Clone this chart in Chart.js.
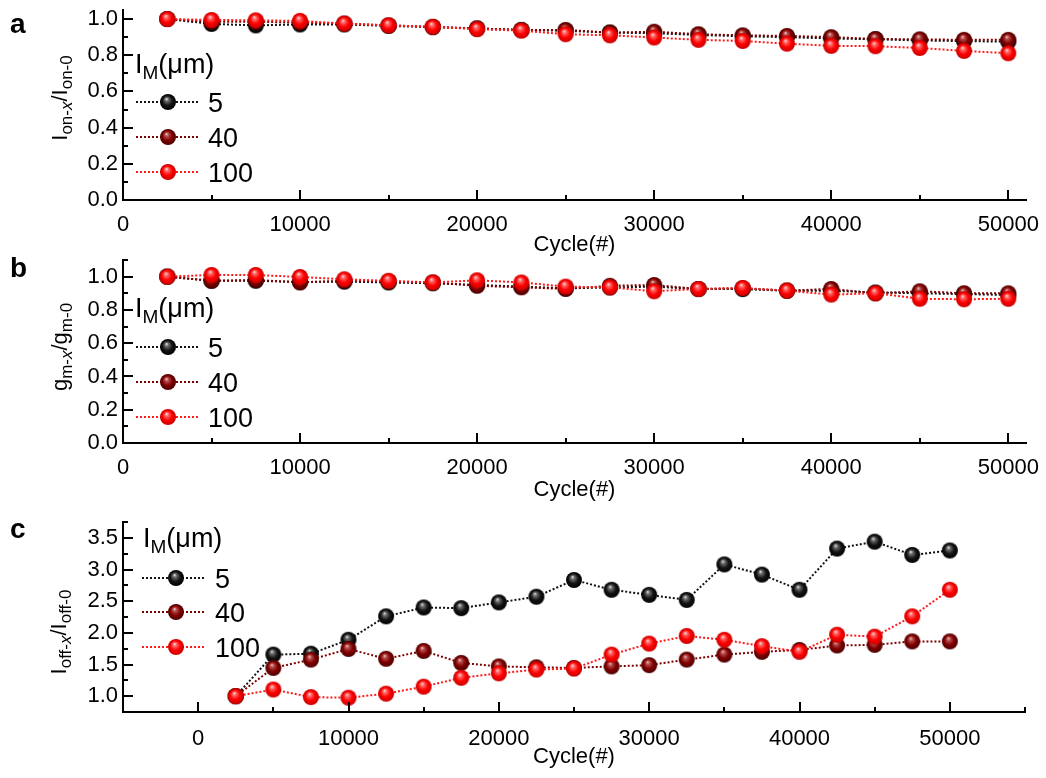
<!DOCTYPE html>
<html><head><meta charset="utf-8">
<script src="https://cdn.jsdelivr.net/npm/chart.js@4.4.0/dist/chart.umd.min.js"></script>
<style>
body{margin:0;background:#fff;width:1046px;height:778px;position:relative;overflow:hidden}
canvas{position:absolute;left:0}
</style></head><body>
<canvas id="ca" width="1046" height="258" style="top:0px"></canvas>
<canvas id="cb" width="1046" height="253" style="top:250px"></canvas>
<canvas id="cc" width="1046" height="270" style="top:500px"></canvas>
<script>
// ---------------- data ----------------
const cycles = [2500, 5000, 7500, 10000, 12500, 15000, 17500, 20000, 22500, 25000,
                27500, 30000, 32500, 35000, 37500, 40000, 42500, 45000, 47500, 50000];
const seriesLabels = ['5', '40', '100'];

// (a) Ion-x / Ion-0
const onRatio5   = [1.000, 0.973, 0.965, 0.970, 0.970, 0.962, 0.955, 0.948, 0.940, 0.935,
                    0.925, 0.922, 0.912, 0.905, 0.900, 0.893, 0.888, 0.882, 0.878, 0.875];
const onRatio40  = [1.000, 0.985, 0.985, 0.980, 0.975, 0.965, 0.957, 0.948, 0.940, 0.940,
                    0.925, 0.930, 0.916, 0.910, 0.907, 0.900, 0.890, 0.888, 0.885, 0.885];
const onRatio100 = [1.000, 0.995, 0.993, 0.990, 0.975, 0.965, 0.957, 0.944, 0.936, 0.916,
                    0.910, 0.898, 0.885, 0.879, 0.864, 0.852, 0.850, 0.840, 0.824, 0.811];

// (b) gm-x / gm-0
const gmRatio5   = [1.000, 0.975, 0.975, 0.968, 0.970, 0.965, 0.960, 0.950, 0.940, 0.930,
                    0.935, 0.940, 0.925, 0.925, 0.915, 0.915, 0.905, 0.900, 0.895, 0.890];
const gmRatio40  = [1.000, 0.975, 0.980, 0.965, 0.975, 0.970, 0.965, 0.945, 0.936, 0.926,
                    0.945, 0.950, 0.926, 0.930, 0.916, 0.926, 0.900, 0.912, 0.900, 0.900];
const gmRatio100 = [1.000, 1.010, 1.010, 0.998, 0.984, 0.975, 0.965, 0.978, 0.965, 0.940,
                    0.936, 0.912, 0.926, 0.932, 0.916, 0.892, 0.900, 0.867, 0.864, 0.867];

// (c) Ioff-x / Ioff-0
const offRatio5   = [1.00, 1.656, 1.67, 1.89, 2.26, 2.40, 2.39, 2.48, 2.57, 2.835,
                     2.68, 2.60, 2.52, 3.08, 2.92, 2.68, 3.33, 3.44, 3.23, 3.30];
const offRatio40  = [1.00, 1.446, 1.577, 1.745, 1.59, 1.715, 1.525, 1.47, 1.456, 1.446,
                     1.47, 1.49, 1.577, 1.656, 1.70, 1.73, 1.80, 1.81, 1.865, 1.865];
const offRatio100 = [1.00, 1.105, 0.985, 0.975, 1.04, 1.15, 1.29, 1.36, 1.42, 1.435,
                     1.656, 1.83, 1.95, 1.89, 1.79, 1.70, 1.97, 1.94, 2.26, 2.68];

// ticks
const xTicksAB  = [0, 10000, 20000, 30000, 40000, 50000];
const xLabelsAB = ['0', '10000', '20000', '30000', '40000', '50000'];
const xMinorAB  = [5000, 15000, 25000, 35000, 45000];
const yTicksAB  = [0, 0.2, 0.4, 0.6, 0.8, 1.0];
const yLabelsAB = ['0.0', '0.2', '0.4', '0.6', '0.8', '1.0'];
const yMinorA   = [0.1, 0.3, 0.5, 0.7, 0.9];
const yMinorB   = [0.1, 0.3, 0.5, 0.7, 0.9, 1.1];
const xTicksC   = [0, 10000, 20000, 30000, 40000, 50000];
const xLabelsC  = ['0', '10000', '20000', '30000', '40000', '50000'];
const xMinorC   = [5000, 15000, 25000, 35000, 45000, 55000];
const yTicksC   = [1.0, 1.5, 2.0, 2.5, 3.0, 3.5];
const yLabelsC  = ['1.0', '1.5', '2.0', '2.5', '3.0', '3.5'];
const yMinorC   = [1.25, 1.75, 2.25, 2.75, 3.25, 3.75];

// ---------------- styles ----------------
const FONT = '"Liberation Sans", Arial, sans-serif';
const lineColors = ['#111111', '#800000', '#ff1a1a'];
const sphereStops = [
  ['#f4f4f4', '#707070', '#151515', '#000000'],
  ['#f2d6d6', '#b85050', '#820000', '#4a0000'],
  ['#ffeaea', '#ff6a6a', '#ff0000', '#c80000']
];
function makeSphere(stops, r) {
  const c = document.createElement('canvas');
  const s = 2 * r + 2;
  c.width = s; c.height = s;
  const g = c.getContext('2d');
  const cx = s / 2, cy = s / 2;
  const grad = g.createRadialGradient(cx - r * 0.2, cy - r * 0.4, 0, cx, cy, r);
  grad.addColorStop(0, stops[0]);
  grad.addColorStop(0.22, stops[1]);
  grad.addColorStop(0.6, stops[2]);
  grad.addColorStop(1, stops[3]);
  g.fillStyle = grad;
  g.beginPath(); g.arc(cx, cy, r, 0, Math.PI * 2); g.fill();
  return c;
}
const sprites = sphereStops.map(s => makeSphere(s, 8));

// ---------------- decoration plugin ----------------
function richWidth(ctx, parts) {
  let w = 0;
  parts.forEach(p => { ctx.font = p.font; w += ctx.measureText(p.t).width; });
  return w;
}
function drawRich(ctx, parts, x, y) {
  parts.forEach(p => {
    ctx.font = p.font;
    ctx.fillText(p.t, x, y + (p.dy || 0));
    x += ctx.measureText(p.t).width;
  });
}
const deco = {
  id: 'deco',
  afterDraw(chart, args, o) {
    const {ctx, chartArea: ca, scales: {x, y}} = chart;
    ctx.save();
    ctx.strokeStyle = '#000'; ctx.lineWidth = 2; ctx.setLineDash([]);
    // inward ticks
    const xt = (vals, len) => vals.forEach(v => {
      const px = Math.round(x.getPixelForValue(v));
      ctx.beginPath(); ctx.moveTo(px, ca.bottom); ctx.lineTo(px, ca.bottom - len); ctx.stroke();
    });
    const yt = (vals, len) => vals.forEach(v => {
      const py = Math.round(y.getPixelForValue(v));
      ctx.beginPath(); ctx.moveTo(ca.left, py); ctx.lineTo(ca.left + len, py); ctx.stroke();
    });
    xt(o.xMajor, 10); xt(o.xMinor, 5); yt(o.yMajor, 10); yt(o.yMinor, 5);

    ctx.fillStyle = '#000';
    ctx.textBaseline = 'alphabetic'; ctx.textAlign = 'left';
    // y title (rotated, with subscripts)
    const M = `22px ${FONT}`, S = `17px ${FONT}`, SI = `italic 17px ${FONT}`;
    const parts = o.yTitle.map(p => ({t: p[0], font: p[1] === 'm' ? M : (p[1] === 'si' ? SI : S), dy: p[1] === 'm' ? 0 : 5}));
    ctx.save();
    ctx.translate(o.yTitleX, o.yTitleY);
    ctx.rotate(-Math.PI / 2);
    drawRich(ctx, parts, -richWidth(ctx, parts) / 2, 0);
    ctx.restore();

    // panel letter
    ctx.font = `bold 28px ${FONT}`;
    ctx.fillText(o.letter, 10, o.letterY);

    // legend
    const L = o.legend;
    drawRich(ctx, [{t: 'I', font: `27px ${FONT}`}, {t: 'M', font: `19px ${FONT}`, dy: 6}, {t: '(\u03bcm)', font: `27px ${FONT}`}], L.titleX, L.titleY);
    seriesLabels.forEach((lab, i) => {
      const yy = L.ys[i];
      ctx.save();
      ctx.strokeStyle = lineColors[i]; ctx.lineWidth = 2; ctx.setLineDash([2, 2]);
      ctx.beginPath(); ctx.moveTo(L.x1, yy); ctx.lineTo(L.x2, yy); ctx.stroke();
      ctx.restore();
      const sp = sprites[i];
      ctx.drawImage(sp, Math.round(L.mx - sp.width / 2), Math.round(yy - sp.height / 2));
      ctx.font = `27px ${FONT}`;
      ctx.fillText(lab, L.tx, yy + 9.5);
    });
    ctx.restore();
  }
};

// ---------------- chart factory ----------------
function makeChart(id, p) {
  const datasets = p.values.map((vals, i) => ({
    label: seriesLabels[i],
    data: cycles.map((c, j) => ({x: c, y: vals[j]})),
    borderColor: lineColors[i], borderWidth: 2, borderDash: [2, 2],
    pointStyle: sprites[i], pointRadius: 8, pointHoverRadius: 8,
    order: 3 - i, clip: false, tension: 0, fill: false
  }));
  const zeroPad = s => { s.paddingLeft = 0; s.paddingRight = 0; s.paddingTop = 0; s.paddingBottom = 0; };
  return new Chart(document.getElementById(id), {
    type: 'line',
    data: {datasets},
    options: {
      responsive: false, animation: false, devicePixelRatio: 1, events: [],
      layout: {padding: {top: p.top, right: p.right, left: 0, bottom: 0}},
      plugins: {legend: {display: false}, tooltip: {enabled: false}, deco: p.deco},
      scales: {
        x: {
          type: 'linear', min: p.xMin, max: p.xMax,
          afterBuildTicks: s => { s.ticks = p.xTicks.map(v => ({value: v})); },
          afterFit: s => { s.height = p.xH; zeroPad(s); },
          grid: {display: false, drawTicks: false},
          border: {display: true, color: '#000', width: 2},
          ticks: {color: '#000', font: {family: FONT, size: 22}, padding: p.xPad, maxRotation: 0, minRotation: 0,
                  autoSkip: false, callback: (v, i) => p.xLabels[i]},
          title: {display: true, text: 'Cycle(#)', color: '#000', font: {family: FONT, size: 22}, padding: 0}
        },
        y: {
          type: 'linear', min: p.yMin, max: p.yMax,
          afterBuildTicks: s => { s.ticks = p.yTicks.map(v => ({value: v})); },
          afterFit: s => { s.width = 123; zeroPad(s); },
          grid: {display: false, drawTicks: false},
          border: {display: true, color: '#000', width: 2},
          ticks: {color: '#000', font: {family: FONT, size: 22}, padding: 5, autoSkip: false,
                  callback: (v, i) => p.yLabels[i]}
        }
      }
    },
    plugins: [deco]
  });
}

makeChart('ca', {
  values: [onRatio5, onRatio40, onRatio100],
  top: 10, right: 20, xH: 58, xPad: 12,
  xMin: 0, xMax: 51000, xTicks: xTicksAB, xLabels: xLabelsAB,
  yMin: 0, yMax: 1.05, yTicks: yTicksAB, yLabels: yLabelsAB,
  deco: {
    xMajor: xTicksAB, xMinor: xMinorAB, yMajor: yTicksAB, yMinor: yMinorA,
    yTitle: [['I', 'm'], ['on-', 's'], ['x', 'si'], ['/I', 'm'], ['on-0', 's']],
    yTitleX: 67, yTitleY: 98, letter: 'a', letterY: 33,
    legend: {titleX: 135, titleY: 73, ys: [102, 137, 172], x1: 136, x2: 199, mx: 168, tx: 208}
  }
});
makeChart('cb', {
  values: [gmRatio5, gmRatio40, gmRatio100],
  top: 4, right: 20, xH: 60, xPad: 12,
  xMin: 0, xMax: 51000, xTicks: xTicksAB, xLabels: xLabelsAB,
  yMin: 0, yMax: 1.1, yTicks: yTicksAB, yLabels: yLabelsAB,
  deco: {
    xMajor: xTicksAB, xMinor: xMinorAB, yMajor: yTicksAB, yMinor: yMinorB,
    yTitle: [['g', 'm'], ['m-', 's'], ['x', 'si'], ['/g', 'm'], ['m-0', 's']],
    yTitleX: 67, yTitleY: 97, letter: 'b', letterY: 27,
    legend: {titleX: 135, titleY: 67, ys: [97, 132, 167], x1: 136, x2: 199, mx: 168, tx: 208}
  }
});
makeChart('cc', {
  values: [offRatio5, offRatio40, offRatio100],
  top: 22, right: 21, xH: 58, xPad: 14,
  xMin: -5000, xMax: 55000, xTicks: xTicksC, xLabels: xLabelsC,
  yMin: 0.75, yMax: 3.75, yTicks: yTicksC, yLabels: yLabelsC,
  deco: {
    xMajor: xTicksC, xMinor: xMinorC, yMajor: yTicksC, yMinor: yMinorC,
    yTitle: [['I', 'm'], ['off-', 's'], ['x', 'si'], ['/I', 'm'], ['off-0', 's']],
    yTitleX: 66, yTitleY: 132, letter: 'c', letterY: 38,
    legend: {titleX: 143, titleY: 47, ys: [78, 112, 147], x1: 142, x2: 205, mx: 176, tx: 215}
  }
});
</script></body></html>
